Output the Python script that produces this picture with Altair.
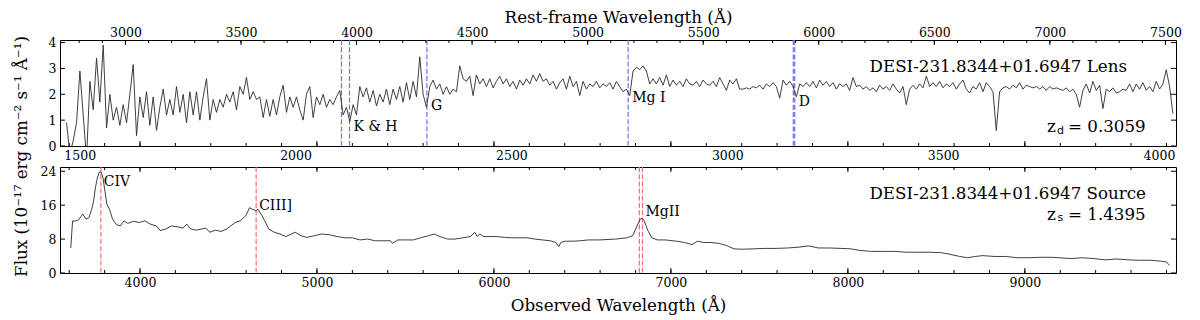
import altair as alt
import pandas as pd

# ---------------- data ----------------
Z_LENS = 0.3059
Z_SOURCE = 1.4395

# lens spectrum: flux sampled on a uniform observed-wavelength grid
LENS_WAVE_START = 3585.0
LENS_WAVE_STEP = 18.83
lens_flux = [
    0.9, -0.3, 0.2, 0.9, 2.9, 1.2, -0.5, 2.5, 1.4, 3.4,
    1.7, 3.9, 0.7, 2.0, 1.0, 1.5, 0.8, 1.6, 0.9, 2.0,
    3.15, 0.4, 1.9, 1.1, 2.1, 0.8, 1.9, 0.6, 1.5, 2.2,
    1.2, 1.8, 1.2, 2.3, 1.3, 2.0, 0.9, 2.1, 1.2, 2.1,
    1.0, 1.9, 2.6, 1.0, 1.8, 1.3, 1.8, 1.5, 2.0, 1.7,
    2.1, 1.4, 2.3, 2.0, 2.65, 1.8, 2.1, 1.8, 1.9, 1.1,
    1.8, 1.15, 1.8, 1.2, 1.9, 2.35, 1.3, 1.9, 1.5, 1.9,
    1.4, 1.0, 2.0, 2.3, 1.1, 1.9, 1.6, 2.0, 1.5, 1.8,
    1.6, 1.9, 2.15, 1.2,
    1.5, 0.95, 1.6, 1.2, 2.3, 1.9, 2.25, 1.7, 2.15, 1.55,
    2.0, 1.7, 2.2, 1.6, 2.2, 1.8, 2.3, 1.7, 2.45, 1.8,
    2.5, 1.9, 3.45, 2.0, 1.5, 2.3, 2.55, 2.2, 2.4, 2.0,
    2.3, 2.0, 2.2, 2.1, 3.1, 2.6, 2.5, 2.7, 1.95, 2.75,
    2.4, 2.6, 2.3, 2.6, 2.25, 2.5, 2.7, 2.4, 2.6, 2.3,
    2.5, 2.2, 2.55, 2.35, 2.6, 2.4, 2.75, 2.5, 2.8, 2.5,
    2.6, 2.35, 2.5, 2.2, 2.45, 2.6, 2.2, 2.7, 2.3, 2.5,
    1.95, 2.5, 2.2, 2.4, 2.3, 2.5, 2.25, 2.4, 2.3, 2.45,
    2.2, 2.5, 2.3, 2.1,
    2.2, 1.95, 2.9, 3.05, 2.95, 3.1, 2.9, 2.4, 2.6, 2.4,
    2.65, 2.35, 2.75, 2.3, 2.55, 2.35, 2.5, 2.3, 2.6, 2.4,
    2.35, 2.5, 2.3, 2.55, 2.4, 2.35, 2.5, 2.3, 2.65, 2.4,
    2.15, 2.55, 2.4, 2.6, 2.2, 2.2, 2.25, 2.2, 2.3, 2.25,
    2.35, 2.2, 2.4, 2.3, 2.45, 2.3, 1.85, 2.55, 2.35, 2.5,
    2.3, 1.9, 2.4, 2.3, 2.45, 2.3, 2.5, 2.25, 2.55, 2.35,
    2.5, 2.3, 2.45, 2.2, 2.4, 2.3, 2.4, 2.15, 2.65, 2.3,
    2.35, 2.2, 2.3, 2.15, 2.25, 2.1, 2.35, 2.2, 2.3, 2.15,
    2.4, 2.2, 2.05, 2.3,
    1.6, 2.2, 2.35, 2.2, 2.4, 2.25, 2.7, 2.3, 2.45, 2.3,
    2.5, 2.25, 2.4, 2.3, 2.45, 2.2, 2.4, 2.55, 2.2, 2.05,
    2.3, 2.2, 2.45, 2.1, 2.45, 2.3, 2.1, 0.6, 2.1, 2.25,
    2.3, 2.2, 2.35, 2.25, 2.45, 2.2, 2.35, 2.3, 2.25, 2.3,
    2.2, 2.3, 2.15, 2.3, 2.2, 2.25, 2.2, 2.15, 2.25, 2.1,
    2.2, 2.0, 1.5, 2.15, 2.4, 2.05, 2.5, 2.15, 2.35, 1.45,
    2.2, 2.1, 2.25, 2.05, 2.1, 2.2, 2.15, 2.4, 2.1, 2.4,
    2.2, 2.45, 2.15, 2.3, 2.1, 2.5, 2.2, 2.4, 2.95, 2.3,
    1.25,
]

# source spectrum (observed wavelength, flux)
src_wave = [
    3609, 3619, 3630, 3652, 3677, 3695, 3712, 3727, 3738, 3748,
    3759, 3770, 3781, 3791, 3802, 3813, 3828, 3845, 3867, 3888,
    3910, 3931, 3963, 3996, 4028, 4060, 4092, 4114, 4146, 4178,
    4211, 4243, 4265, 4286, 4318, 4351, 4372, 4394, 4426, 4458,
    4490, 4512, 4538, 4566, 4598, 4619, 4637, 4652, 4667, 4684,
    4705, 4727, 4759, 4791, 4824, 4856, 4877, 4910, 4942, 4985,
    5028, 5071, 5114, 5157, 5200, 5243, 5286, 5329, 5372, 5415,
    5426, 5458, 5501, 5544, 5587, 5630, 5662, 5695, 5738, 5781,
    5824, 5867, 5892, 5905, 5920, 5942, 5974, 6017, 6060, 6103,
    6146, 6189, 6232, 6275, 6318, 6350, 6366, 6378, 6404, 6447,
    6490, 6533, 6594,
    6687, 6751, 6784, 6805, 6827, 6838, 6849, 6870, 6892, 6924,
    6968, 7032, 7076, 7119, 7151, 7184, 7227, 7270, 7313, 7357,
    7400, 7465, 7530, 7595, 7659, 7724, 7778, 7832, 7897, 7962,
    8016, 8070, 8135, 8200, 8265, 8330, 8394, 8459, 8524, 8567,
    8632, 8676, 8719, 8762, 8827, 8892, 8957, 9021, 9086, 9151,
    9194, 9259, 9324, 9389, 9454, 9519, 9584, 9648, 9713, 9767,
    9800, 9817,
]
src_flux = [
    5.9, 12.3, 12.2, 12.5, 13.9, 12.7, 13.1, 15.0, 17.0, 20.1,
    22.4, 23.8, 23.8, 22.4, 19.3, 16.2, 15.0, 12.7, 11.4, 11.1,
    12.3, 11.7, 12.2, 11.9, 12.3, 11.5, 11.1, 10.0, 10.4, 11.1,
    10.9, 10.6, 11.5, 10.4, 10.1, 10.4, 10.6, 9.6, 10.1, 9.8,
    10.4, 11.1, 11.9, 12.3, 13.5, 15.4, 15.0, 14.7, 15.0, 13.9,
    12.3, 10.4, 9.6, 9.2, 8.6, 9.2, 9.6, 8.8, 8.4, 8.8,
    9.2, 9.0, 8.6, 8.3, 8.3, 7.8, 8.0, 7.6, 7.6, 7.6,
    7.0, 7.8, 7.8, 7.8, 8.3, 8.8, 9.2, 8.6, 8.0, 8.0,
    8.3, 8.6, 9.6, 8.6, 9.2, 8.6, 8.6, 8.6, 8.4, 8.3,
    8.3, 8.3, 8.0, 7.8, 7.6, 7.2, 6.2, 7.2, 7.5, 7.5,
    7.6, 7.8, 7.8,
    8.0, 8.3, 8.8, 10.8, 12.7, 12.9, 12.3, 10.0, 8.3, 7.8,
    7.8, 7.5, 7.2, 6.7, 7.5, 7.2, 7.2, 7.0, 6.5, 5.7,
    5.6, 5.7, 5.8, 5.8, 5.9, 6.1, 6.4, 5.9, 5.9, 5.8,
    5.7, 5.3, 5.1, 5.1, 5.1, 4.9, 4.9, 4.9, 4.8, 4.5,
    3.9, 3.6, 3.9, 4.1, 3.9, 3.9, 3.6, 3.6, 3.7, 3.7,
    3.6, 3.4, 3.6, 3.4, 3.1, 3.3, 3.1, 3.0, 3.0, 2.8,
    2.6, 1.8,
]

# absorption lines of the lens (rest frame, Angstrom)
lens_line_rest = [3934.8, 3969.6, 4304.4, 5175.3, 5889.95, 5895.92]
lens_label_text = ["K & H", "G", "Mg I", "D"]
lens_label_rest = [3969.6, 4304.4, 5175.3, 5895.92]
lens_label_flux = [0.74, 1.53, 1.86, 1.69]

# emission lines of the source (rest frame, Angstrom)
src_line_rest = [1549.06, 1908.73, 2796.35, 2803.53]
src_label_text = ["CIV", "CIII]", "MgII"]
src_label_rest = [1549.06, 1908.73, 2803.53]
src_label_flux = [21.4, 15.8, 14.5]

# ticks
obs_major = [4000, 5000, 6000, 7000, 8000, 9000]
obs_minor = list(range(3600, 9801, 200))
lens_rest_major = [3000, 3500, 4000, 4500, 5000, 5500, 6000, 6500, 7000, 7500]
lens_rest_minor = list(range(2800, 7501, 100))
src_rest_major = [1500, 2000, 2500, 3000, 3500, 4000]
top_y_ticks = [0, 1, 2, 3, 4]
bot_y_ticks = [0, 8, 16, 24]

# ---------------- chart ----------------
FONT = "DejaVu Serif"
W, H1, H2 = 1116, 106, 106
X_DOMAIN = [3548, 9854]
BLUE = "#6e6ef6"
RED = "#ff6a6a"
LINE_COLOR = "#2a2a2a"

xs = alt.Scale(domain=X_DOMAIN, nice=False, zero=False)
ys1 = alt.Scale(domain=[0, 4.1], nice=False, zero=False)
ys2 = alt.Scale(domain=[0, 25], nice=False, zero=False)

lens_df = pd.DataFrame({
    "wave": [LENS_WAVE_START + LENS_WAVE_STEP * i for i in range(len(lens_flux))],
    "flux": lens_flux,
})
src_df = pd.DataFrame({"wave": src_wave, "flux": src_flux})

AX = dict(domain=False, ticks=False, tickSize=0, grid=False, labelFont=FONT,
          labelFontSize=12.5, labelColor="black", titleFont=FONT,
          titleFontSize=16.7, titleFontWeight="normal", titleColor="black",
          labelFlush=False, labelOverlap=False, labelBound=False)


def x_ticks(values, where, length, height, axis=None):
    df = pd.DataFrame({"w": values})
    if where == "top":
        y0, y1 = 0, length
    else:
        y0, y1 = height, height - length
    return alt.Chart(df).mark_rule(color="black", strokeWidth=1).encode(
        x=alt.X("w:Q", scale=xs, axis=axis),
        y=alt.value(y0), y2=alt.value(y1))


def y_ticks(values, yscale, length):
    df = pd.DataFrame({"v": values})
    left = alt.Chart(df).mark_rule(color="black", strokeWidth=1).encode(
        y=alt.Y("v:Q", scale=yscale, axis=None),
        x=alt.value(0), x2=alt.value(length))
    right = alt.Chart(df).mark_rule(color="black", strokeWidth=1).encode(
        y=alt.Y("v:Q", scale=yscale, axis=None),
        x=alt.value(W), x2=alt.value(W - length))
    return [left, right]


def corner_text(txt, x, y, size, align="left", font=FONT):
    return alt.Chart(pd.DataFrame({"t": [txt]})).mark_text(
        align=align, baseline="middle", font=font, fontSize=size, color="black"
    ).encode(text="t:N", x=alt.value(x), y=alt.value(y))


# ---- top panel (lens) ----
lens_rest_major_obs = [v * (1 + Z_LENS) for v in lens_rest_major]
lens_rest_minor_obs = [v * (1 + Z_LENS) for v in lens_rest_minor]
src_rest_major_obs = [v * (1 + Z_SOURCE) for v in src_rest_major]

lens_line = alt.Chart(lens_df).mark_line(
    color=LINE_COLOR, strokeWidth=0.9, clip=True
).encode(
    x=alt.X("wave:Q", scale=xs, axis=alt.Axis(
        orient="bottom", values=src_rest_major_obs, title=None, labelPadding=3,
        labelExpr=f"format(datum.value / {1 + Z_SOURCE}, '.0f')", **AX)),
    y=alt.Y("flux:Q", scale=ys1, axis=alt.Axis(
        values=top_y_ticks, title=None, labelPadding=4, **AX)),
)

lens_lines_df = pd.DataFrame({"w": [v * (1 + Z_LENS) for v in lens_line_rest]})
lens_vlines = alt.Chart(lens_lines_df).mark_rule(
    color=BLUE, strokeWidth=1.2, strokeDash=[5, 2.2]
).encode(x=alt.X("w:Q", scale=xs, axis=None), y=alt.value(0), y2=alt.value(H1))

lens_lab_df = pd.DataFrame({
    "w": [v * (1 + Z_LENS) for v in lens_label_rest],
    "f": lens_label_flux, "t": lens_label_text})
lens_labels = alt.Chart(lens_lab_df).mark_text(
    align="left", baseline="middle", dx=4, font=FONT, fontSize=14, color="black"
).encode(x=alt.X("w:Q", scale=xs, axis=None),
         y=alt.Y("f:Q", scale=ys1, axis=None), text="t:N")

top_axis_layer = x_ticks(lens_rest_major_obs, "top", 5, H1, axis=alt.Axis(
    orient="top", values=lens_rest_major_obs, title="Rest-frame Wavelength (Å)",
    labelPadding=1, titlePadding=0,
    labelExpr=f"format(datum.value / {1 + Z_LENS}, '.0f')", **AX))

top_layers = [
    lens_vlines, lens_line, lens_labels, top_axis_layer,
    x_ticks(lens_rest_minor_obs, "top", 3, H1),
    x_ticks(obs_major, "bottom", 5, H1),
    x_ticks(obs_minor, "bottom", 3, H1),
    *y_ticks(top_y_ticks, ys1, 5),
    corner_text("DESI-231.8344+01.6947 Lens", 1067, 26.5, 16.7, align="right"),
    corner_text("z", 987, 87, 16.7),
    corner_text("d", 997, 90.5, 11, font="DejaVu Sans"),
    corner_text("= 0.3059", 1008, 87, 16.7),
]
top = alt.layer(*top_layers).resolve_axis(
    x="independent", y="independent").properties(width=W, height=H1)

# ---- bottom panel (source) ----
src_line = alt.Chart(src_df).mark_line(
    color=LINE_COLOR, strokeWidth=0.9, clip=True
).encode(
    x=alt.X("wave:Q", scale=xs, axis=alt.Axis(
        orient="bottom", values=obs_major, format="d",
        title="Observed Wavelength (Å)", labelPadding=3, titlePadding=9, **AX)),
    y=alt.Y("flux:Q", scale=ys2, axis=alt.Axis(
        values=bot_y_ticks, title="Flux (10⁻¹⁷ erg cm⁻² s⁻¹ Å⁻¹)",
        labelPadding=4, titlePadding=10, titleY=-11, **AX)),
)

src_lines_df = pd.DataFrame({"w": [v * (1 + Z_SOURCE) for v in src_line_rest]})
src_vlines = alt.Chart(src_lines_df).mark_rule(
    color=RED, strokeWidth=1.2, strokeDash=[5, 2.2]
).encode(x=alt.X("w:Q", scale=xs, axis=None), y=alt.value(0), y2=alt.value(H2))

src_lab_df = pd.DataFrame({
    "w": [v * (1 + Z_SOURCE) for v in src_label_rest],
    "f": src_label_flux, "t": src_label_text})
src_labels = alt.Chart(src_lab_df).mark_text(
    align="left", baseline="middle", dx=3, font=FONT, fontSize=14, color="black"
).encode(x=alt.X("w:Q", scale=xs, axis=None),
         y=alt.Y("f:Q", scale=ys2, axis=None), text="t:N")

bottom_layers = [
    src_vlines, src_line, src_labels,
    x_ticks(obs_major, "top", 5, H2),
    x_ticks(obs_minor, "top", 3, H2),
    x_ticks(obs_major, "bottom", 5, H2),
    x_ticks(obs_minor, "bottom", 3, H2),
    *y_ticks(bot_y_ticks, ys2, 5),
    corner_text("DESI-231.8344+01.6947 Source", 1086, 26.5, 16.7, align="right"),
    corner_text("z", 987, 47.5, 16.7),
    corner_text("s", 997.5, 51, 11, font="DejaVu Sans"),
    corner_text("= 1.4395", 1008, 47.5, 16.7),
]
bottom = alt.layer(*bottom_layers).resolve_axis(
    x="independent", y="independent").properties(width=W, height=H2)

chart = alt.vconcat(top, bottom, spacing=21, bounds="flush").properties(
    padding={"left": 4, "top": 0, "right": 2, "bottom": 0}
).configure(font=FONT).configure_view(stroke="black", strokeWidth=1)

chart.save("out.html", embed_options={"renderer": "svg", "actions": False})
